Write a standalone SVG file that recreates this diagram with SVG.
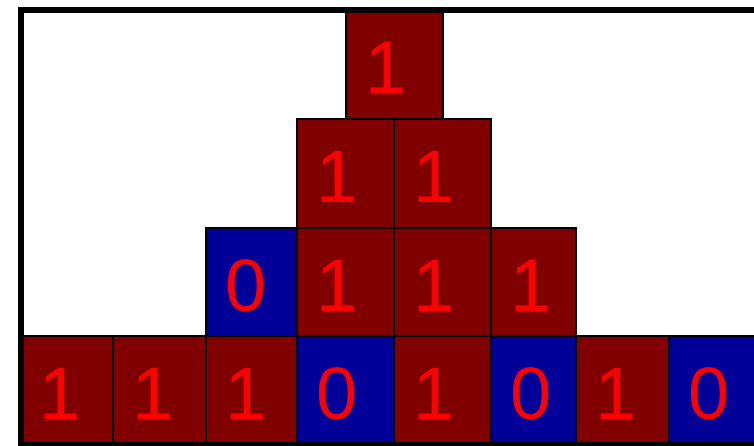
<svg xmlns="http://www.w3.org/2000/svg" width="754" height="446" viewBox="0 0 754 446">
<style>
.c rect{stroke:#000;stroke-width:2}
.one rect{fill:#800000}
.zero rect{fill:#000099}
text{font-family:"Liberation Sans",Arial,sans-serif;font-size:74px;fill:#ff0000}
</style>
<rect width="754" height="446" fill="#fff"/>
<g id="r0c0" class="c one"><rect x="346" y="10" width="97" height="109"/><text x="365" y="93">1</text></g>
<g id="r1c0" class="c one"><rect x="297" y="119" width="97" height="109"/><text x="316" y="202">1</text></g>
<g id="r1c1" class="c one"><rect x="394" y="119" width="97" height="109"/><text x="413" y="202">1</text></g>
<g id="r2c0" class="c zero"><rect x="206" y="228" width="91" height="108"/><text x="225" y="311">0</text></g>
<g id="r2c1" class="c one"><rect x="297" y="228" width="97" height="108"/><text x="316" y="311">1</text></g>
<g id="r2c2" class="c one"><rect x="394" y="228" width="97" height="108"/><text x="413" y="311">1</text></g>
<g id="r2c3" class="c one"><rect x="491" y="228" width="85" height="108"/><text x="510" y="311">1</text></g>
<g id="r3c0" class="c one"><rect x="21" y="336" width="92" height="107"/><text x="39" y="419">1</text></g>
<g id="r3c1" class="c one"><rect x="113" y="336" width="93" height="107"/><text x="132" y="419">1</text></g>
<g id="r3c2" class="c one"><rect x="206" y="336" width="91" height="107"/><text x="225" y="419">1</text></g>
<g id="r3c3" class="c zero"><rect x="297" y="336" width="97" height="107"/><text x="316" y="419">0</text></g>
<g id="r3c4" class="c one"><rect x="394" y="336" width="97" height="107"/><text x="413" y="419">1</text></g>
<g id="r3c5" class="c zero"><rect x="491" y="336" width="85" height="107"/><text x="510" y="419">0</text></g>
<g id="r3c6" class="c one"><rect x="576" y="336" width="93" height="107"/><text x="595" y="419">1</text></g>
<g id="r3c7" class="c zero"><rect x="669" y="336" width="95" height="107"/><text x="688" y="419">0</text></g>
<g id="frame"><rect x="21" y="10" width="800" height="435" fill="none" stroke="#000" stroke-width="6"/></g>
</svg>
